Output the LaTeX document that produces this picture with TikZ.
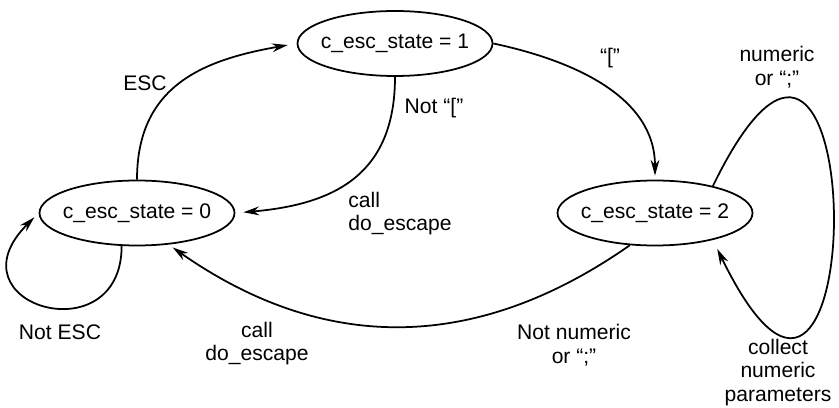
\documentclass[tikz,border=0pt]{standalone}
\usepackage{fontspec}
\setmainfont{Liberation Sans}
\usetikzlibrary{arrows.meta, shapes.geometric}

\begin{document}
\begin{tikzpicture}[
    state/.style={
        draw, ellipse, line width=1pt,
        minimum width=3.9cm, minimum height=1.3cm,
        inner xsep=-4pt, inner ysep=0pt,
        font=\fontsize{12}{13.5}\selectfont
    },
    lbl/.style={
        align=center, inner sep=0pt,
        font=\fontsize{12}{13.5}\selectfont
    },
    arr/.style={-{Stealth[length=9pt, width=5pt]}, line width=1pt},
]
\useasboundingbox (0,0) rectangle (16.78,8.14);

%% States
\node[state] (s0) at (2.74, 3.88) {c\_esc\_state = 0};
\node[state] (s1) at (7.90, 7.27) {c\_esc\_state = 1};
\node[state] (s2) at (13.10, 3.88) {c\_esc\_state = 2};

%% Transitions
\draw[arr, shorten >=0.18cm] (s0.north) to[out=90, in=190, looseness=1.15] (s1.west);
\draw[arr, shorten >=0.16cm] (s1.south) to[out=-90, in=5, looseness=1.2] (s0.east);
\draw[arr, shorten >=0.08cm] (s1.east) to[out=-12, in=90] (s2.north);
\draw[arr, shorten >=0.1cm] (s2.232) to[out=215, in=325, looseness=1.05] (s0.-45);

%% Self loops
\draw[arr, shorten >=0.12cm] (s0.245) .. controls +(-90:2.2) and +(225:2.6) .. (s0.west);
\draw[arr, shorten >=0.2cm] (s2.25) .. controls +(64:7.3) and +(-64:7.3) .. (s2.-25);

%% Labels
\node[lbl] (lesc) at (2.90, 6.48) {ESC};
\node[lbl] (lnotbr) at (8.68, 5.98) {Not “[”};
\node[lbl, align=left, anchor=west] (lcall1) at (6.96, 3.87) {call\\do\_escape};
\node[lbl] (lbr) at (12.20, 6.98) {“[”};
\node[lbl] (lnum) at (15.54, 6.79) {numeric\\or “;”};
\node[lbl] (lnotesc) at (1.20, 1.50) {Not ESC};
\node[lbl] (lcall2) at (5.14, 1.27) {call\\do\_escape};
\node[lbl] (lnotnum) at (11.48, 1.24) {Not numeric\\or “;”};
\node[lbl] (lcollect) at (15.56, 0.69) {collect\\numeric\\parameters};

\end{tikzpicture}
\end{document}
